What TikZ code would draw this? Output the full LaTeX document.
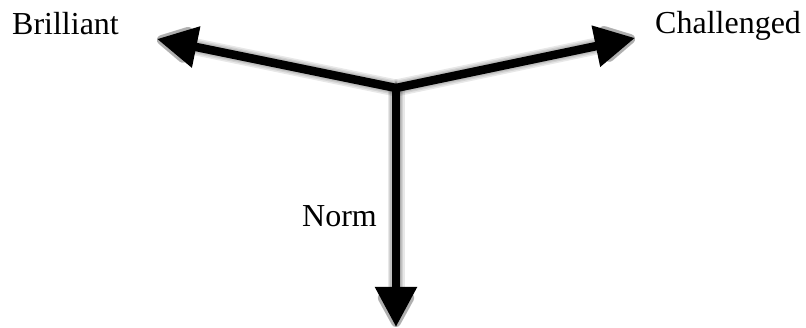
\documentclass[tikz,border=0pt]{standalone}
\usepackage{fontspec}
\setmainfont{Liberation Serif}
\usetikzlibrary{arrows.meta}
\tikzset{
  arrowline/.style={line width=8.5pt, draw=black, line join=miter,
     -{Triangle[length=40pt,width=40pt]}},
  shadowline/.style={line width=#1, draw=black, draw opacity=0.09, line join=round,
     -{Triangle[length=40pt,width=40pt, round]}, fill opacity=0.09},
  label/.style={inner sep=0pt, anchor=base west, font=\fontsize{32}{38}\selectfont}
}
\begin{document}
\begin{tikzpicture}[x=1pt,y=-1pt]
\useasboundingbox (0,0) rectangle (806,328);
\coordinate (c) at (396,88);
\coordinate (bl) at (157,39);
\coordinate (br) at (635,38);
\coordinate (bd) at (396,327);
% soft shadow
\begin{scope}[shift={(3,5)}]
  \foreach \w in {17pt,14pt,11.5pt,9pt}{
    \draw[shadowline=\w] (c) -- (bl);
    \draw[shadowline=\w] (c) -- (br);
    \draw[shadowline=\w] (c) -- (bd);
  }
\end{scope}
% arrows
\draw[arrowline] (c) -- (bd);
\draw[arrowline] (c) -- (bl);
\draw[arrowline] (c) -- (br);
% labels
\node[label] (brilliant) at (12,34.3) {Brilliant};
\node[label] (challenged) at (655,34) {Challenged};
\node[label] (norm) at (302,227) {Norm};
\end{tikzpicture}
\end{document}
